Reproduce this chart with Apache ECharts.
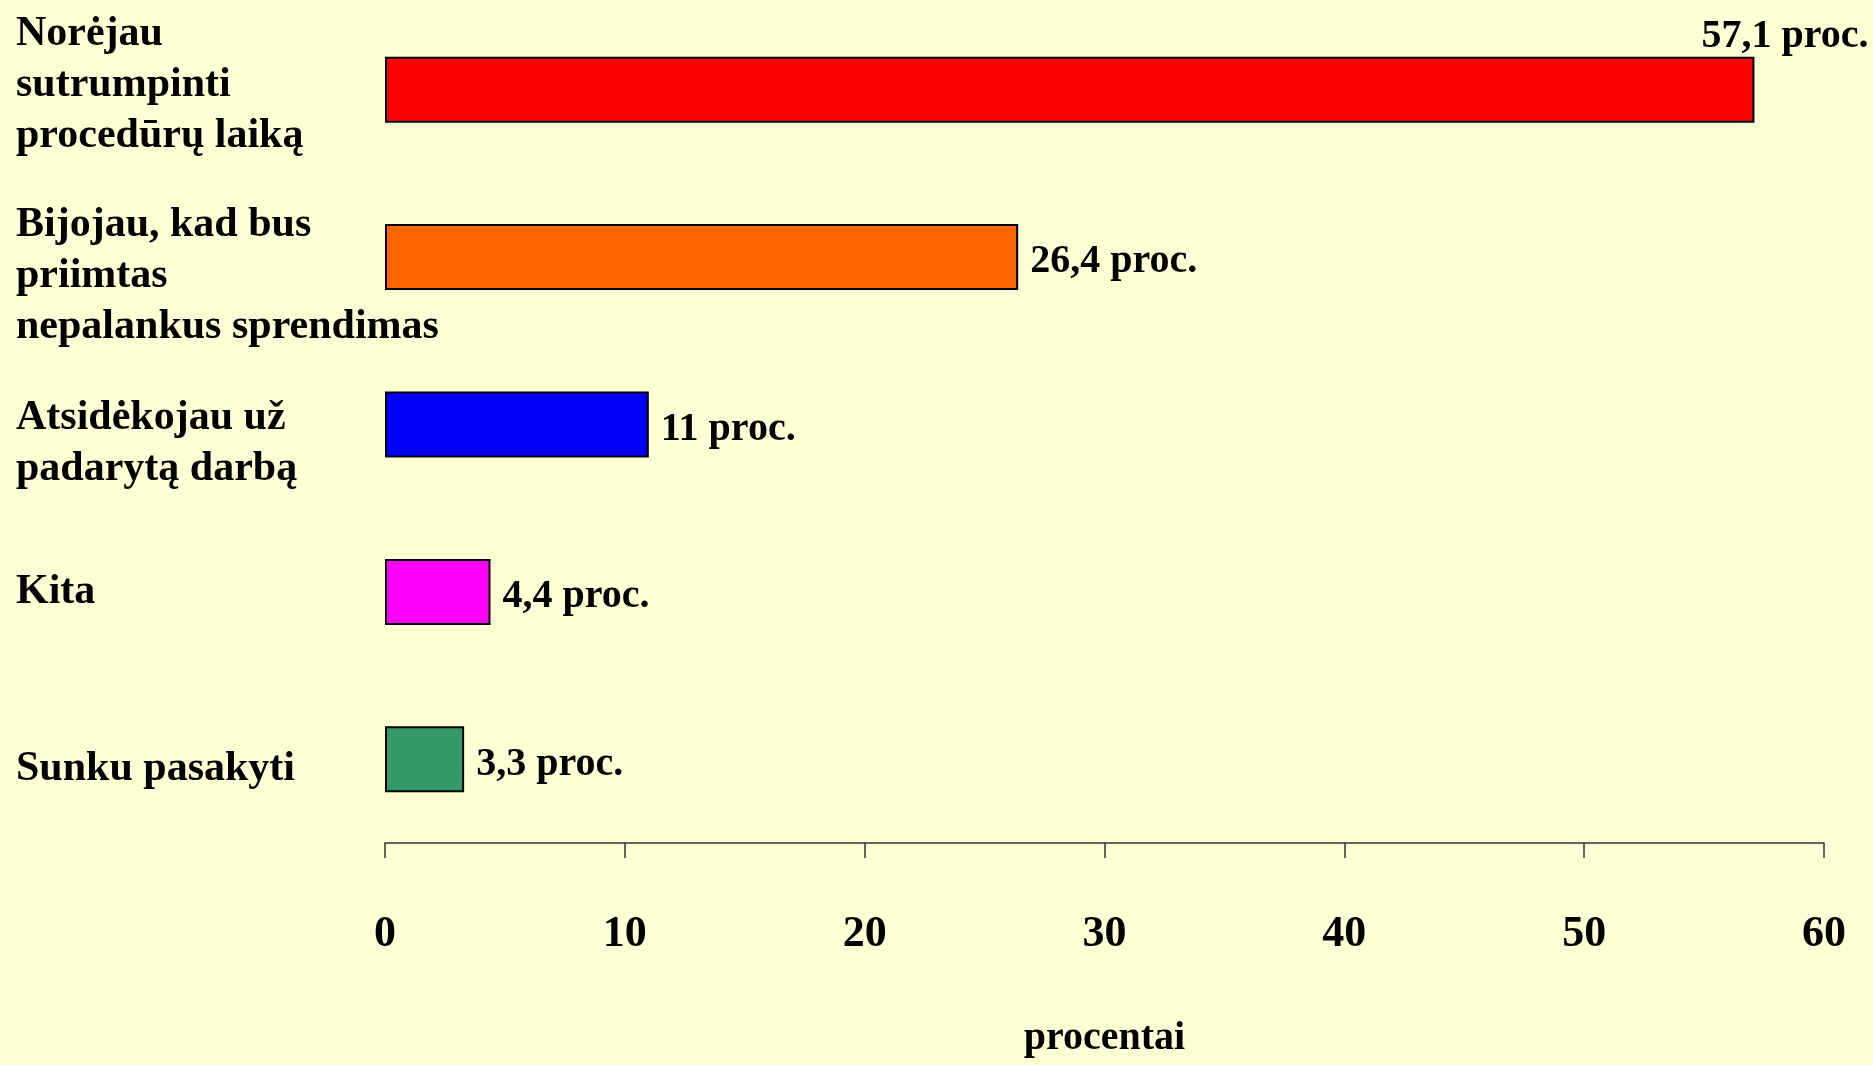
<!DOCTYPE html>
<html>
<head>
<meta charset="utf-8">
<script src="https://cdn.jsdelivr.net/npm/echarts@6/dist/echarts.min.js"></script>
<style>
html,body{margin:0;padding:0;background:#FFFFD5;}
#chart{width:1873px;height:1065px;}
</style>
</head>
<body>
<div id="chart"></div>
<script>
var categories = [
  "Norėjau\nsutrumpinti\nprocedūrų laiką",
  "Bijojau, kad bus\npriimtas\nnepalankus sprendimas",
  "Atsidėkojau už\npadarytą darbą",
  "Kita",
  "Sunku pasakyti"
];
var values = [57.1, 26.4, 11, 4.4, 3.3];
var barColors = ["#FF0000", "#FF6600", "#0000FF", "#FF00FF", "#339966"];
var xTicks = [0, 10, 20, 30, 40, 50, 60];
var axisTitle = "procentai";

// vertical nudge of each category label (style only): spacer line heights
var labelTopSpacer = [0, 38, 38, 0, 20];
var labelBottomSpacer = [10, 0, 0, 0, 0];

var serif = "'Liberation Serif', 'Times New Roman', serif";
var chart = echarts.init(document.getElementById('chart'));
chart.setOption({
  backgroundColor: '#FFFFD5',
  animation: false,
  grid: { left: 385, right: 49, top: 6, bottom: 222, containLabel: false, outerBoundsMode: 'none' },
  xAxis: {
    type: 'value', min: xTicks[0], max: xTicks[xTicks.length - 1], interval: 10,
    position: 'bottom',
    axisLine: { show: true, lineStyle: { color: '#333333', width: 1.5 } },
    axisTick: { show: true, length: 15, lineStyle: { color: '#333333', width: 1.5 } },
    splitLine: { show: false },
    axisLabel: { margin: 70, fontFamily: serif, fontWeight: 'bold', fontSize: 44, color: '#000' },
    name: axisTitle, nameLocation: 'middle', nameGap: 176,
    nameTextStyle: { fontFamily: serif, fontWeight: 'bold', fontSize: 40, color: '#000' }
  },
  yAxis: {
    type: 'category', data: categories, inverse: true,
    axisLine: { show: false }, axisTick: { show: false }, splitLine: { show: false },
    axisLabel: {
      interval: 0, hideOverlap: false, showMinLabel: true, showMaxLabel: true,
      align: 'left', margin: 369, fontFamily: serif, fontWeight: 'bold',
      fontSize: 42, lineHeight: 51, color: '#000',
      formatter: function (value, index) {
        var s = value;
        if (labelTopSpacer[index]) s = '{t' + index + '| }\n' + s;
        if (labelBottomSpacer[index]) s = s + '\n{b' + index + '| }';
        return s;
      },
      rich: (function () {
        var r = {};
        for (var i = 0; i < labelTopSpacer.length; i++) {
          r['t' + i] = { fontSize: 1, lineHeight: labelTopSpacer[i] || 1 };
          r['b' + i] = { fontSize: 1, lineHeight: labelBottomSpacer[i] || 1 };
        }
        return r;
      })()
    }
  },
  series: [{
    type: 'bar', barWidth: 66,
    data: values.map(function (v, i) {
      var d = { value: v, itemStyle: { color: barColors[i], borderColor: '#000', borderWidth: 2 } };
      if (i === 0) d.label = { offset: [-65, -53] };
      return d;
    }),
    label: {
      show: true, position: 'right', distance: 12, offset: [0, 5],
      fontFamily: serif, fontWeight: 'bold', fontSize: 40, color: '#000',
      formatter: function (p) { return String(p.value).replace('.', ',') + ' proc.'; }
    }
  }]
});
</script>
</body>
</html>
